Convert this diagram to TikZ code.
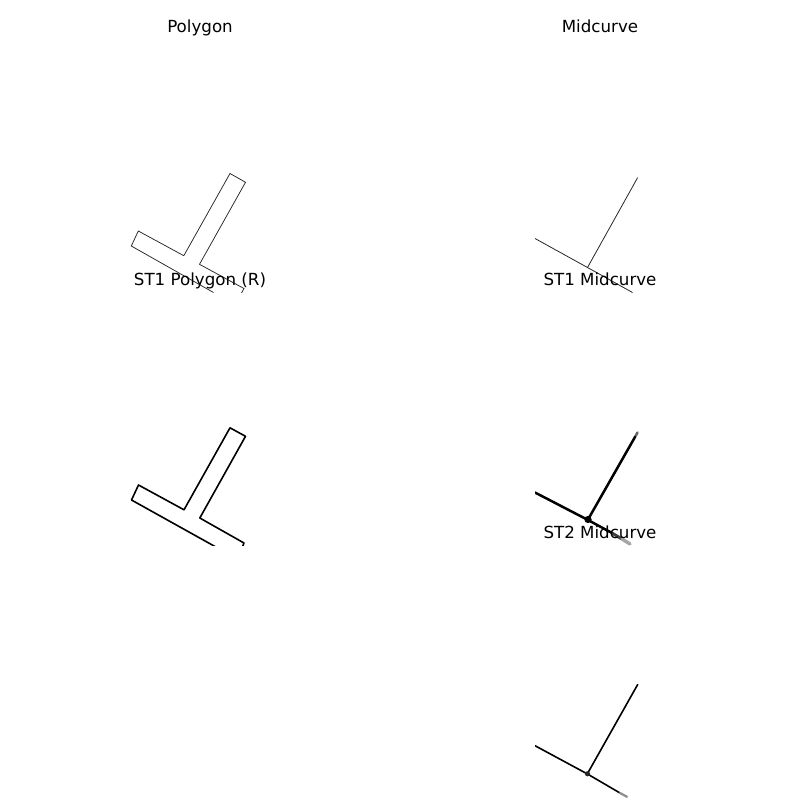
\documentclass[tikz,border=0pt]{standalone}
\usepackage{fontspec}
\setmainfont{DejaVu Sans}
\begin{document}
\begin{tikzpicture}[x=1pt,y=-1pt,
  title/.style={font=\fontsize{16.67}{20}\selectfont,anchor=base,inner sep=0pt,text=black},
  thinedge/.style={draw=black!85,line width=0.75pt,line join=miter},
  thickedge/.style={draw=black,line width=1.6pt,line join=round},
  midthin/.style={draw=black!85,line width=0.8pt},
  midst1/.style={draw=black,line width=2.5pt,line cap=round},
  midst2/.style={draw=black,line width=1.6pt,line cap=round}]
\useasboundingbox (0,0) rectangle (800,800);
% Polygon
\begin{scope}
\clip (130,50) rectangle (270,292);
\draw[thinedge] (213.5,292.5) -- (131.3,246) -- (138.3,231) -- (183.8,255.7) -- (230,173.5) -- (245.5,182.3) -- (199.5,264.3) -- (244,288.5) -- (241.5,293);
\end{scope}
% Midcurve
\begin{scope}
\clip (535,50) rectangle (670,292.5);
\draw[midthin] (637.7,177.5) -- (587.5,267.5);
\draw[midthin] (535,238.5) -- (587.5,267.5) -- (632.5,292.5);
\end{scope}
% ST1 Polygon (R)
\begin{scope}
\clip (130,300) rectangle (270,545.5);
\draw[thickedge] (215,546.5) -- (131.5,500) -- (138.5,485) -- (184,509.8) -- (230,427.8) -- (245.5,436.3) -- (199.8,518) -- (244,543) -- (242,548);
\end{scope}
% ST1 Midcurve
\begin{scope}
\clip (535,300) rectangle (670,545.5);
\draw[midst1,draw=black!60] (637.5,432.5) -- (635,437);
\draw[midst1] (635,437) -- (588,519.5);
\draw[midst1] (535,492.5) -- (588,520) -- (612,533);
\draw[line width=3pt,draw=black!75] (612,533) -- (622,539);
\draw[line width=3.4pt,draw=black!35,line cap=round] (622,539) -- (630,544);
\fill[black] (588,519.5) circle (3.6);
\end{scope}
% ST2 Midcurve
\begin{scope}
\clip (535,550) rectangle (670,799);
\draw[midst2] (637.7,684.5) -- (587.5,773.5);
\draw[midst2] (535,745.7) -- (587.5,774) -- (620,793);
\draw[line width=2.2pt,draw=black!45,line cap=round] (620,793) -- (627,796.8);
\fill[black!85] (587.5,773.8) circle (2.6);
\end{scope}
% Titles
\node[title] (t1) at (200,32.5) {Polygon};
\node[title] (t2) at (600,32.5) {Midcurve};
\node[title] (t3) at (200,285.5) {ST1 Polygon (R)};
\node[title] (t4) at (600,285.5) {ST1 Midcurve};
\node[title] (t5) at (600,538.5) {ST2 Midcurve};
\end{tikzpicture}
\end{document}
